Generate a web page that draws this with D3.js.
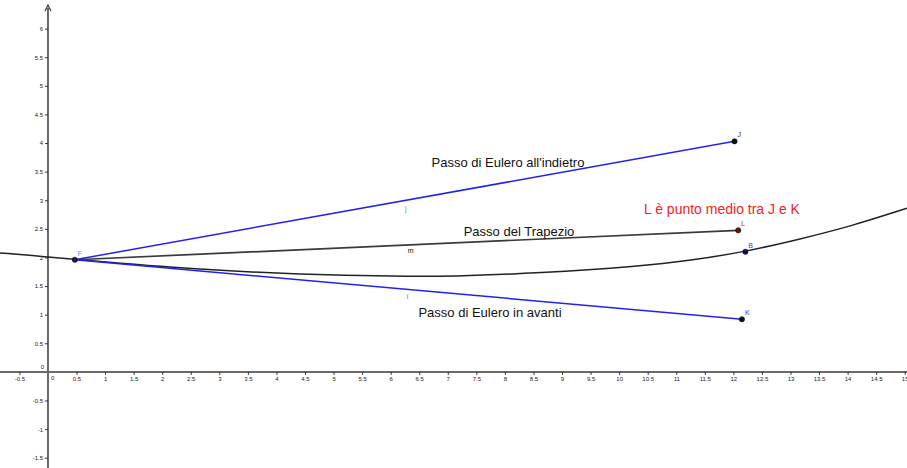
<!DOCTYPE html>
<html>
<head>
<meta charset="utf-8">
<script src="https://cdn.jsdelivr.net/npm/d3@7"></script>
<style>
  html, body { margin: 0; padding: 0; background: #fff; }
  svg { display: block; font-family: "Liberation Sans", Arial, sans-serif; }
</style>
</head>
<body>
<svg id="chart" width="907" height="468"></svg>
<script>
// Exact solution curve, sampled
const curveX = [-0.84, 0, 0.47, 2.66, 4.41, 6.16, 7.04, 8.61, 10.36, 11.24, 12.21, 13.16, 14.04, 15.04];
const curveY = [2.08, 2.01, 1.965, 1.785, 1.705, 1.668, 1.668, 1.725, 1.845, 1.945, 2.10, 2.32, 2.54, 2.86];

// Named points
const pointNames = ["F", "J", "K", "L", "B"];
const pointX = [0.47, 12.02, 12.15, 12.085, 12.21];
const pointY = [1.96, 4.03, 0.92, 2.475, 2.10];

// Segments from F
const segNames = ["j", "i", "m"];
const segEnds = ["J", "K", "L"];

// Tick values
const xTicks = d3.range(-0.5, 15.01, 0.5).filter(v => v !== 0);
const yTicks = d3.range(-1.5, 6.01, 0.5).filter(v => v !== 0);

const W = 907, H = 468;
const svg = d3.select("#chart");
const x = d3.scaleLinear().domain([-0.84, 15.04]).range([0, W]);
const y = d3.scaleLinear().domain([-1.68, 6.5]).range([H, 0]);

const fmt = v => (Number.isInteger(v) ? String(v) : v.toFixed(1));
const pt = name => {
  const i = pointNames.indexOf(name);
  return { x: pointX[i], y: pointY[i] };
};

// Axes
const axisColor = "#6a6a6a";
svg.append("line")
  .attr("x1", 0).attr("x2", W).attr("y1", y(0)).attr("y2", y(0))
  .attr("stroke", axisColor).attr("stroke-width", 2);
svg.append("line")
  .attr("x1", x(0)).attr("x2", x(0)).attr("y1", 8).attr("y2", H)
  .attr("stroke", axisColor).attr("stroke-width", 2);
svg.append("path")
  .attr("d", `M${x(0) - 3},${11} L${x(0)},${5} L${x(0) + 3},${11}`)
  .attr("fill", "none").attr("stroke", "#333").attr("stroke-width", 1.2);

const xAxis = d3.axisBottom(x).tickValues(xTicks).tickSize(3).tickPadding(2).tickFormat(fmt);
const gx = svg.append("g").attr("transform", `translate(0,${y(0)})`).call(xAxis);
gx.select(".domain").remove();
gx.selectAll(".tick line").attr("stroke", "#333");
gx.selectAll(".tick text").attr("font-size", 6).attr("fill", "#222")
  .attr("font-family", "Liberation Sans, Arial, sans-serif");

const yAxis = d3.axisLeft(y).tickValues(yTicks).tickSize(3).tickPadding(2).tickFormat(fmt);
const gy = svg.append("g").attr("transform", `translate(${x(0)},0)`).call(yAxis);
gy.select(".domain").remove();
gy.selectAll(".tick line").attr("stroke", "#333");
gy.selectAll(".tick text").attr("font-size", 6).attr("fill", "#222")
  .attr("font-family", "Liberation Sans, Arial, sans-serif");

// Origin labels
svg.append("text").attr("x", x(0) + 3).attr("y", y(0) + 8)
  .attr("font-size", 6).attr("fill", "#222").text("0");
svg.append("text").attr("x", x(0) - 4).attr("y", y(0) - 3)
  .attr("text-anchor", "end").attr("font-size", 6).attr("fill", "#222").text("0");

// Solution curve
const line = d3.line().x((d, i) => x(curveX[i])).y((d, i) => y(curveY[i]))
  .curve(d3.curveBasis);
svg.append("path").datum(curveX).attr("d", line)
  .attr("fill", "none").attr("stroke", "#222").attr("stroke-width", 1.5);

// Segments
const F = pt("F");
const segColors = { j: "#2222ee", i: "#2222ee", m: "#3a3a3a" };
segNames.forEach((s, k) => {
  const E = pt(segEnds[k]);
  svg.append("line")
    .attr("x1", x(F.x)).attr("y1", y(F.y)).attr("x2", x(E.x)).attr("y2", y(E.y))
    .attr("stroke", segColors[s]).attr("stroke-width", s === "m" ? 1.7 : 1.5);
});

// Segment labels
const segLabelPos = { j: [6.25, 2.82], i: [6.28, 1.28], m: [6.3, 2.08] };
const segLabelColor = { j: "#6b6bff", i: "#6b6bff", m: "#111" };
segNames.forEach(s => {
  svg.append("text").attr("x", x(segLabelPos[s][0])).attr("y", y(segLabelPos[s][1]))
    .attr("font-size", 7).attr("fill", segLabelColor[s]).text(s);
});

// Points
const pointFill = { F: "#1a1a5a", J: "#111", K: "#111", L: "#7a1010", B: "#10105a" };
const pointLabelColor = { F: "#7b7bff", J: "#333", K: "#3333ee", L: "#dd2222", B: "#3333ee" };
pointNames.forEach((n, i) => {
  svg.append("circle").attr("cx", x(pointX[i])).attr("cy", y(pointY[i])).attr("r", 2.6)
    .attr("fill", pointFill[n]).attr("stroke", "#000").attr("stroke-width", 0.6);
  svg.append("text").attr("x", x(pointX[i]) + 3).attr("y", y(pointY[i]) - 4)
    .attr("font-size", 7).attr("fill", pointLabelColor[n]).text(n);
});

// Captions
const captions = [
  { t: "Passo di Eulero all'indietro", cx: 508, cy: 162, c: "#111", s: 13 },
  { t: "Passo del Trapezio", cx: 519, cy: 231, c: "#111", s: 13 },
  { t: "Passo di Eulero in avanti", cx: 490, cy: 312, c: "#111", s: 13 },
  { t: "L è punto medio tra J e K", cx: 722, cy: 209, c: "#ff1a1a", s: 14 }
];
captions.forEach(d => {
  svg.append("text").attr("x", d.cx).attr("y", d.cy).attr("dy", "0.35em")
    .attr("text-anchor", "middle").attr("font-size", d.s).attr("fill", d.c).text(d.t);
});
</script>
</body>
</html>
